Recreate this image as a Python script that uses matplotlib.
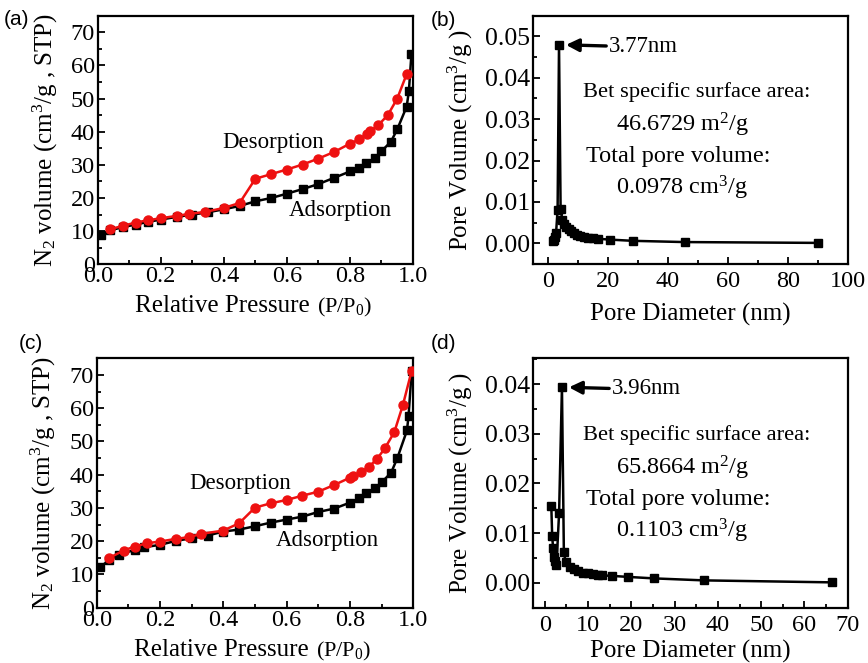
import matplotlib
matplotlib.use("Agg")
import matplotlib.pyplot as plt
from matplotlib.ticker import MultipleLocator, FormatStrFormatter

plt.rcParams['font.family'] = ['Liberation Serif', 'DejaVu Serif']
plt.rcParams['mathtext.fontset'] = 'custom'
plt.rcParams['mathtext.rm'] = 'Liberation Serif'
plt.rcParams['mathtext.it'] = 'Liberation Serif:italic'

# ---------------- data ----------------
# (a) isotherm
P_ads_a = [0.01, 0.04, 0.08, 0.12, 0.16, 0.20, 0.25, 0.30, 0.35, 0.40, 0.45, 0.50, 0.55, 0.60,
           0.65, 0.70, 0.75, 0.80, 0.83, 0.85, 0.88, 0.90, 0.93, 0.95, 0.98, 0.987, 0.995]
V_ads_a = [8.9, 10.3, 11.2, 12.0, 12.8, 13.5, 14.3, 15.0, 15.7, 16.6, 17.6, 19.0, 20.0, 21.3,
           22.7, 24.2, 26.1, 28.0, 29.2, 30.5, 32.1, 34.1, 37.0, 40.7, 47.6, 52.3, 63.4]
P_des_a = [0.04, 0.08, 0.12, 0.16, 0.20, 0.25, 0.29, 0.34, 0.40, 0.45, 0.50, 0.55, 0.60, 0.65,
           0.70, 0.75, 0.80, 0.83, 0.855, 0.865, 0.89, 0.92, 0.95, 0.98]
V_des_a = [10.6, 11.6, 12.6, 13.3, 13.9, 14.6, 15.2, 15.8, 17.0, 18.5, 25.8, 27.2, 28.6, 30.1,
           31.9, 33.9, 36.4, 37.7, 39.4, 40.2, 42.0, 45.0, 50.0, 57.4]

# (b) pore size distribution
D_b = [1.6, 2.0, 2.4, 2.8, 3.3, 3.77, 4.3, 4.9, 5.5, 6.2, 7.0, 7.8, 8.7, 9.7, 10.8, 12.0,
       13.4, 15.0, 16.8, 20.6, 28.3, 45.6, 90.2]
PV_b = [0.0005, 0.0009, 0.0016, 0.0026, 0.0081, 0.0480, 0.0083, 0.0056, 0.0047, 0.0040, 0.0034,
        0.0029, 0.0025, 0.0021, 0.0018, 0.0016, 0.0014, 0.0012, 0.0011, 0.0009, 0.0006, 0.0003, 0.0001]

# (c) isotherm
P_ads_c = [0.01, 0.04, 0.07, 0.12, 0.15, 0.20, 0.25, 0.30, 0.35, 0.40, 0.45, 0.50, 0.55, 0.60,
           0.65, 0.70, 0.75, 0.80, 0.83, 0.85, 0.88, 0.90, 0.93, 0.95, 0.98, 0.985, 0.995]
V_ads_c = [12.2, 14.3, 15.9, 17.4, 18.2, 18.9, 20.1, 20.9, 21.7, 22.9, 23.5, 24.5, 25.6, 26.5,
           27.4, 28.8, 29.8, 31.6, 32.9, 34.4, 35.9, 37.7, 40.6, 45.1, 53.3, 57.7, 71.3]
P_des_c = [0.04, 0.085, 0.12, 0.16, 0.20, 0.25, 0.29, 0.33, 0.40, 0.45, 0.50, 0.55, 0.60, 0.65,
           0.70, 0.75, 0.80, 0.81, 0.835, 0.86, 0.885, 0.91, 0.94, 0.967, 0.995]
V_des_c = [15.0, 17.2, 18.4, 19.4, 19.9, 20.7, 21.2, 22.2, 23.2, 25.4, 30.1, 31.4, 32.4, 33.7,
           34.9, 36.9, 39.1, 39.6, 40.7, 42.4, 44.7, 47.9, 52.8, 60.9, 71.3]

# (d) pore size distribution
D_d = [1.5, 1.7, 1.9, 2.15, 2.45, 2.7, 3.3, 3.96, 4.4, 4.8, 5.8, 6.7, 7.7, 8.9, 10.0, 11.2,
       12.3, 13.3, 15.6, 19.2, 25.2, 36.7, 66.3]
PV_d = [0.0155, 0.0095, 0.0071, 0.0052, 0.0045, 0.0036, 0.0141, 0.0394, 0.0063, 0.0042, 0.0032,
        0.0028, 0.0024, 0.0019, 0.0019, 0.0017, 0.0015, 0.0015, 0.0014, 0.0012, 0.0009, 0.0005, 0.0001]

peak_b = (3.77, 0.0480, "3.77nm")
peak_d = (3.96, 0.0394, "3.96nm")
info_b = ["Bet specific surface area:", "46.6729 m$^2$/g", "Total pore volume:", "0.0978 cm$^3$/g"]
info_d = ["Bet specific surface area:", "65.8664 m$^2$/g", "Total pore volume:", "0.1103 cm$^3$/g"]

W, H = 868, 663
fig = plt.figure(figsize=(W / 100, H / 100), dpi=100)


def box(l, t, r, b):
    return [l / W, 1 - b / H, (r - l) / W, (b - t) / H]


def style(ax, xpad, ypad, ysize):
    for s in ax.spines.values():
        s.set_linewidth(1.6)
    ax.tick_params(which='both', direction='in', top=False, right=False, width=1.3)
    ax.tick_params(which='major', length=5)
    ax.tick_params(which='minor', length=3)
    ax.tick_params(axis='x', pad=xpad, labelsize=17.5)
    ax.tick_params(axis='y', pad=ypad, labelsize=ysize)


def iso(ax, Pa, Va, Pd, Vd, des_pos, ads_pos, ylab_x, xlab_y):
    ax.plot(Pa, Va, '-s', color='black', ms=6, lw=1.8, zorder=2)
    ax.plot(Pd, Vd, '-o', color='#ee1111', mec='#ee1111', ms=6.5, lw=1.8, zorder=3)
    ax.set_xlim(0, 1.0)
    ax.set_ylim(0, 75)
    ax.xaxis.set_major_locator(MultipleLocator(0.2))
    ax.xaxis.set_minor_locator(MultipleLocator(0.1))
    ax.yaxis.set_major_locator(MultipleLocator(10))
    ax.yaxis.set_minor_locator(MultipleLocator(5))
    style(ax, 1.5, 2, 17.5)
    ax.xaxis.set_major_formatter(FormatStrFormatter('%.1f'))
    ax.text(*des_pos, "Desorption", transform=ax.transAxes, fontsize=16.5, ha='left', va='center')
    ax.text(*ads_pos, "Adsorption", transform=ax.transAxes, fontsize=16.5, ha='left', va='center')
    ax.set_ylabel("N$_2$ volume (cm$^3$/g , STP)", fontsize=18)
    ax.yaxis.set_label_coords(ylab_x, 0.5)
    t = ax.text(0.118, xlab_y, "Relative Pressure", transform=ax.transAxes,
                ha='left', va='top', fontsize=18)
    ax.annotate("(P/P$_0$)", xy=(1, 0), xycoords=t, xytext=(5, -1),
                textcoords='offset points', ha='left', va='bottom', fontsize=16)


def psd(ax, D, V, xlim, ylim, xmaj, peak, info, ylab_x, xlab_y):
    ax.plot(D, V, '-s', color='black', ms=6, lw=1.8)
    ax.set_xlim(*xlim)
    ax.set_ylim(*ylim)
    ax.xaxis.set_major_locator(MultipleLocator(xmaj))
    ax.xaxis.set_minor_locator(MultipleLocator(xmaj / 2))
    ax.yaxis.set_major_locator(MultipleLocator(0.01))
    ax.yaxis.set_minor_locator(MultipleLocator(0.005))
    style(ax, 5, 2, 18.5)
    ax.yaxis.set_major_formatter(FormatStrFormatter('%.2f'))
    ax.annotate(peak[2], xy=(peak[0], peak[1]), xytext=(36, -1), textcoords='offset points',
                ha='left', va='center', fontsize=16.5,
                arrowprops=dict(arrowstyle='-|>', color='black', lw=2.4, mutation_scale=19,
                                shrinkA=0, shrinkB=5, relpos=(0, 0.5)))
    ax.text(0.160, 0.694, info[0], transform=ax.transAxes, ha='left', va='center', fontsize=16.2)
    ax.text(0.476, 0.562, info[1], transform=ax.transAxes, ha='center', va='center', fontsize=17.5)
    ax.text(0.168, 0.434, info[2], transform=ax.transAxes, ha='left', va='center', fontsize=17.5)
    ax.text(0.475, 0.307, info[3], transform=ax.transAxes, ha='center', va='center', fontsize=17.5)
    ax.set_ylabel("Pore Volume (cm$^3$/g )", fontsize=18)
    ax.yaxis.set_label_coords(ylab_x, 0.5)
    ax.set_xlabel("Pore Diameter (nm)", fontsize=18)
    ax.xaxis.set_label_coords(0.5, xlab_y)


ax_a = fig.add_axes(box(97.7, 15.7, 413, 264.3))
ax_b = fig.add_axes(box(532.7, 15.7, 847.7, 264))
ax_c = fig.add_axes(box(96.7, 358.3, 413.3, 607.7))
ax_d = fig.add_axes(box(532.7, 358.3, 847.7, 607.7))

iso(ax_a, P_ads_a, V_ads_a, P_des_a, V_des_a, (0.394, 0.488), (0.607, 0.218), -0.120, -0.124)
iso(ax_c, P_ads_c, V_ads_c, P_des_c, V_des_c, (0.292, 0.496), (0.566, 0.271), -0.122, -0.126)
psd(ax_b, D_b, PV_b, (-5, 100), (-0.005, 0.055), 20, peak_b, info_b, -0.183, -0.155)
psd(ax_d, D_d, PV_d, (-2.8, 70), (-0.005, 0.0452), 10, peak_d, info_d, -0.183, -0.130)

for lab, x, y in [("(a)", 4, 10), ("(b)", 431, 11), ("(c)", 19, 334), ("(d)", 431, 334)]:
    fig.text(x / W, 1 - y / H, lab, fontsize=15, family='Liberation Sans', ha='left', va='top')

fig.savefig("out.png", dpi=100)
